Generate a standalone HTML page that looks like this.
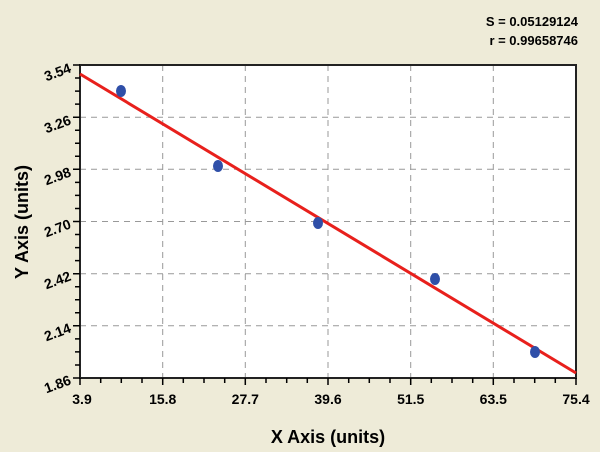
<!DOCTYPE html>
<html><head><style>
body{margin:0;background:#eeebd8;}
</style></head><body>
<svg width="600" height="452" xmlns="http://www.w3.org/2000/svg" style="display:block;font-family:'Liberation Sans',Arial,sans-serif;font-weight:bold">
<rect width="600" height="452" fill="#eeebd8"/>
<rect x="80" y="65" width="496" height="313" fill="#fff"/>
<g stroke="#999" stroke-width="1" stroke-dasharray="6,5">
<line x1="162.7" y1="65" x2="162.7" y2="378"/><line x1="245.3" y1="65" x2="245.3" y2="378"/>
<line x1="328" y1="65" x2="328" y2="378"/><line x1="410.7" y1="65" x2="410.7" y2="378"/>
<line x1="493.3" y1="65" x2="493.3" y2="378"/>
<line x1="80" y1="117.2" x2="576" y2="117.2"/><line x1="80" y1="169.3" x2="576" y2="169.3"/>
<line x1="80" y1="221.5" x2="576" y2="221.5"/><line x1="80" y1="273.7" x2="576" y2="273.7"/>
<line x1="80" y1="325.8" x2="576" y2="325.8"/>
</g>
<rect x="80" y="65" width="496" height="313" fill="none" stroke="#222" stroke-width="2"/>
<path stroke="#000" stroke-width="1.5" fill="none" d="
M80 378v7 M100.7 378v5 M121.3 378v5 M142 378v5 M162.7 378v7 M183.3 378v5 M204 378v5 M224.7 378v5 M245.3 378v7 M266 378v5 M286.7 378v5 M307.3 378v5 M328 378v7 M348.7 378v5 M369.3 378v5 M390 378v5 M410.7 378v7 M431.3 378v5 M452 378v5 M472.7 378v5 M493.3 378v7 M514 378v5 M534.7 378v5 M555.3 378v5 M576 378v7
M80 65h-7 M80 78h-5 M80 91.1h-5 M80 104.1h-5 M80 117.2h-7 M80 130.2h-5 M80 143.3h-5 M80 156.3h-5 M80 169.3h-7 M80 182.4h-5 M80 195.4h-5 M80 208.5h-5 M80 221.5h-7 M80 234.5h-5 M80 247.6h-5 M80 260.6h-5 M80 273.7h-7 M80 286.7h-5 M80 299.8h-5 M80 312.8h-5 M80 325.8h-7 M80 338.9h-5 M80 351.9h-5 M80 365h-5 M80 378h-7"/>
<line x1="80" y1="74" x2="576" y2="373" stroke="#e8201c" stroke-width="3"/>
<g fill="#2f4fa8">
<ellipse cx="121" cy="91" rx="5" ry="6"/><ellipse cx="218" cy="166" rx="5" ry="6"/>
<ellipse cx="318" cy="223" rx="5" ry="6"/><ellipse cx="435" cy="279" rx="5" ry="6"/>
<ellipse cx="535" cy="352" rx="5" ry="6"/>
</g>
<g font-size="14" text-anchor="middle">
<text x="82" y="404">3.9</text><text x="162.7" y="404">15.8</text><text x="245.3" y="404">27.7</text>
<text x="328" y="404">39.6</text><text x="410.7" y="404">51.5</text><text x="493.3" y="404">63.5</text>
<text x="576" y="404">75.4</text>
</g>
<g font-size="14" text-anchor="end">
<text transform="translate(72,72) rotate(-20)">3.54</text>
<text transform="translate(72,124) rotate(-20)">3.26</text>
<text transform="translate(72,176) rotate(-20)">2.98</text>
<text transform="translate(72,228) rotate(-20)">2.70</text>
<text transform="translate(72,280) rotate(-20)">2.42</text>
<text transform="translate(72,332) rotate(-20)">2.14</text>
<text transform="translate(72,384) rotate(-20)">1.86</text>
</g>
<text x="328" y="443" font-size="18" text-anchor="middle">X Axis (units)</text>
<text transform="translate(28,222) rotate(-90)" font-size="18" text-anchor="middle">Y Axis (units)</text>
<text x="578" y="26" font-size="13" text-anchor="end">S = 0.05129124</text>
<text x="578" y="45" font-size="13" text-anchor="end">r = 0.99658746</text>
</svg>
</body></html>
